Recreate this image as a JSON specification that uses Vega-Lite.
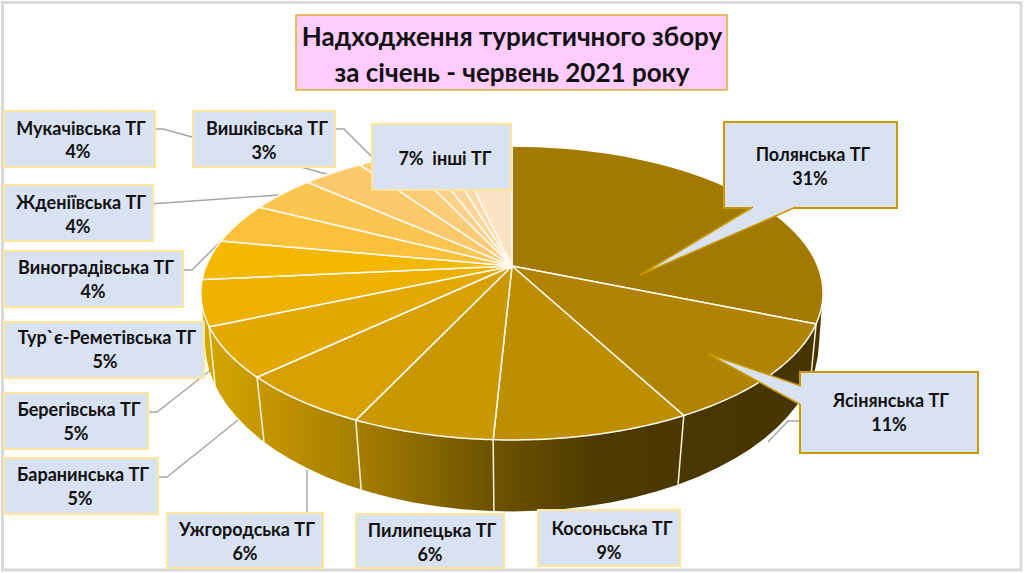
{
"$schema":"https://vega.github.io/schema/vega-lite/v6.json",
"width":1024,"height":573,"padding":0,
"autosize":{"type":"fit","contains":"padding"},
"background":"white",
"view":{"stroke":null},
"datasets":{
"slices":[
{"name":"Полянська ТГ","share":31.2},{"name":"Ясінянська ТГ","share":11},{"name":"Косоньська ТГ","share":8.6},{"name":"Пилипецька ТГ","share":6.2},{"name":"Ужгородська ТГ","share":6},{"name":"Баранинська ТГ","share":5.5},{"name":"Берегівська ТГ","share":5},{"name":"Тур`є-Реметівська ТГ","share":4.4},{"name":"Виноградівська ТГ","share":4.5},{"name":"Жденіївська ТГ","share":4.1},{"name":"Мукачівська ТГ","share":3.8},{"name":"Вишківська ТГ","share":2.7},{"name":"інші 1","share":1.3},{"name":"інші 2","share":1.2},{"name":"інші 3","share":0.9},{"name":"інші 4","share":3.6}],
"boxes":[
{"name":"Мукачівська ТГ","pct":"4%","x0":4,"x1":155,"y0":111,"y1":167,"nx":81,"ny":128,"px":78,"py":151,"kind":"light"},
{"name":"Вишківська ТГ","pct":"3%","x0":193,"x1":335,"y0":111,"y1":167,"nx":267,"ny":128,"px":264,"py":152,"kind":"light"},
{"name":"7%\u00a0\u00a0інші ТГ","pct":"","x0":372,"x1":511,"y0":124,"y1":190,"nx":445,"ny":158,"px":445,"py":158,"kind":"light"},
{"name":"Жденіївська ТГ","pct":"4%","x0":4,"x1":153,"y0":185,"y1":241,"nx":81,"ny":202,"px":78,"py":226,"kind":"light"},
{"name":"Виноградівська ТГ","pct":"4%","x0":4,"x1":183,"y0":251,"y1":307,"nx":96,"ny":267,"px":93,"py":291,"kind":"light"},
{"name":"Тур`є-Реметівська ТГ","pct":"5%","x0":4,"x1":204,"y0":322,"y1":378,"nx":107,"ny":337,"px":105,"py":361,"kind":"light"},
{"name":"Берегівська ТГ","pct":"5%","x0":4,"x1":148,"y0":393,"y1":449,"nx":79,"ny":409,"px":76,"py":433,"kind":"light"},
{"name":"Баранинська ТГ","pct":"5%","x0":4,"x1":158,"y0":458,"y1":514,"nx":83,"ny":474,"px":80,"py":498,"kind":"light"},
{"name":"Ужгородська ТГ","pct":"6%","x0":167,"x1":323,"y0":513,"y1":568,"nx":247,"ny":529,"px":245,"py":553,"kind":"light"},
{"name":"Пилипецька ТГ","pct":"6%","x0":356,"x1":504,"y0":514,"y1":568,"nx":432,"ny":530,"px":430,"py":554,"kind":"light"},
{"name":"Косоньська ТГ","pct":"9%","x0":538,"x1":680,"y0":510,"y1":566,"nx":612,"ny":528,"px":609,"py":552,"kind":"light"},
{"name":"Ясінянська ТГ","pct":"11%","x0":800,"x1":978,"y0":372,"y1":453,"nx":891,"ny":400,"px":889,"py":424,"kind":"dark"},
{"name":"Полянська ТГ","pct":"31%","x0":724,"x1":897,"y0":122,"y1":208,"nx":813,"ny":154,"px":810,"py":178,"kind":"dark"}],
"leaders":[
{"id":"Мукачівська","s":0,"x":155,"y":129},{"id":"Мукачівська","s":1,"x":163,"y":129},{"id":"Мукачівська","s":2,"x":330,"y":175},
{"id":"Вишківська","s":0,"x":336,"y":129},{"id":"Вишківська","s":1,"x":344,"y":129},{"id":"Вишківська","s":2,"x":374,"y":159},
{"id":"Жденіївська","s":0,"x":150,"y":204},{"id":"Жденіївська","s":1,"x":279,"y":195},
{"id":"Виноградівська","s":0,"x":184,"y":270},{"id":"Виноградівська","s":1,"x":192,"y":270},{"id":"Виноградівська","s":2,"x":238,"y":224},
{"id":"Берегівська","s":0,"x":148,"y":412},{"id":"Берегівська","s":1,"x":157,"y":412},{"id":"Берегівська","s":2,"x":212,"y":369},
{"id":"Баранинська","s":0,"x":159,"y":477},{"id":"Баранинська","s":1,"x":167,"y":477},{"id":"Баранинська","s":2,"x":238,"y":420},
{"id":"Ужгородська","s":0,"x":307,"y":470},{"id":"Ужгородська","s":1,"x":307,"y":513},
{"id":"Ясінянська","s":0,"x":800,"y":421},{"id":"Ясінянська","s":1,"x":788,"y":421},{"id":"Ясінянська","s":2,"x":768,"y":442}],
"pointers":[
{"id":"Полянська","s":0,"x":753,"y":207},{"id":"Полянська","s":1,"x":640,"y":275},{"id":"Полянська","s":2,"x":796,"y":207},
{"id":"Ясінянська","s":0,"x":801,"y":386},{"id":"Ясінянська","s":1,"x":708,"y":354},{"id":"Ясінянська","s":2,"x":801,"y":405}],
"title":[{"text":"Надходження туристичного збору","x":512,"y":37},{"text":"за січень - червень 2021 року","x":512,"y":73}]
},
"layer":[
{"data":{"values":[{"a":"frame","x0":2.5,"x1":1021,"y0":2.5,"y1":570}]},
 "mark":{"type":"rect","fill":"white","stroke":"#d9d9d9","strokeWidth":3},
 "encoding":{"x":{"field":"x0","type":"quantitative","scale":{"domain":[0,1024],"nice":false,"zero":false},"axis":null},"x2":{"field":"x1"},"y":{"field":"y0","type":"quantitative","scale":{"domain":[573,0],"nice":false,"zero":false},"axis":null},"y2":{"field":"y1"}}},
{"data":{"name":"leaders"},
 "mark":{"type":"line","stroke":"#a6a6a6","strokeWidth":1.5},
 "encoding":{"x":{"field":"x","type":"quantitative"},"y":{"field":"y","type":"quantitative"},"detail":{"field":"id"},"order":{"field":"s"}}},
{"data":{"values":[{"part":"side wall","from":100,"to":260}]},
 "transform":[
 {"calculate":"sequence(0,82)","as":"i"},{"flatten":["i"]},
 {"calculate":"PI/180*(datum.i<=40?datum.from+(datum.to-datum.from)*datum.i/40:datum.to-(datum.to-datum.from)*(datum.i-41)/40)","as":"th"},
 {"calculate":"sin(datum.th)","as":"u"},{"calculate":"-cos(datum.th)","as":"v"},
 {"calculate":"datum.i<=40?512+305.8*datum.u/(1-0.1837*datum.v):512+303*datum.u/(1-0.16*datum.v)","as":"px"},
 {"calculate":"datum.i<=40?266+142*datum.v/(1-0.1837*datum.v):315+165*datum.v/(1-0.16*datum.v)","as":"py"}],
 "mark":{"type":"line","strokeWidth":0,"fill":{"gradient":"linear","x1":0,"x2":1,"y1":0,"y2":0,"stops":[{"offset":0,"color":"#d6a800"},{"offset":0.1,"color":"#c49600"},{"offset":0.25,"color":"#a67e00"},{"offset":0.46,"color":"#6f5400"},{"offset":0.64,"color":"#4c3a00"},{"offset":1,"color":"#463400"}]}},
 "encoding":{"x":{"field":"px","type":"quantitative"},"y":{"field":"py","type":"quantitative"},"detail":{"field":"part"},"order":{"field":"i"}}},
{"data":{"name":"slices"},
 "transform":[
 {"window":[{"op":"sum","field":"share","as":"end"}],"frame":[null,0]},
 {"filter":"datum.end>=31 && datum.end<=69"},
 {"calculate":"2*PI*datum.end/100","as":"th"},
 {"calculate":"sin(datum.th)","as":"u"},{"calculate":"-cos(datum.th)","as":"v"},
 {"calculate":"512+305.8*datum.u/(1-0.1837*datum.v)","as":"tx"},
 {"calculate":"266+142*datum.v/(1-0.1837*datum.v)","as":"ty"},
 {"calculate":"512+303*datum.u/(1-0.16*datum.v)","as":"bx"},
 {"calculate":"315+165*datum.v/(1-0.16*datum.v)","as":"by"}],
 "mark":{"type":"rule","stroke":"#fff3d6","strokeWidth":1.5},
 "encoding":{"x":{"field":"tx","type":"quantitative"},"y":{"field":"ty","type":"quantitative"},"x2":{"field":"bx"},"y2":{"field":"by"}}},
{"data":{"name":"slices"},
 "transform":[
 {"window":[{"op":"sum","field":"share","as":"end"}],"frame":[null,0]},
 {"calculate":"datum.end-datum.share","as":"start"},
 {"calculate":"sequence(-1,42)","as":"i"},{"flatten":["i"]},
 {"calculate":"2*PI*(datum.start+datum.share*clamp(datum.i,0,40)/40)/100","as":"th"},
 {"calculate":"sin(datum.th)","as":"u"},{"calculate":"-cos(datum.th)","as":"v"},
 {"calculate":"datum.i<0||datum.i>40?512:512+305.8*datum.u/(1-0.1837*datum.v)","as":"px"},
 {"calculate":"datum.i<0||datum.i>40?266:266+142*datum.v/(1-0.1837*datum.v)","as":"py"}],
 "mark":{"type":"line","stroke":"#fffbf2","strokeWidth":1.5,"strokeJoin":"round"},
 "encoding":{"x":{"field":"px","type":"quantitative"},"y":{"field":"py","type":"quantitative"},"detail":{"field":"name"},"order":{"field":"i"},
 "fill":{"field":"name","type":"nominal","legend":null,"scale":{"domain":["Полянська ТГ","Ясінянська ТГ","Косоньська ТГ","Пилипецька ТГ","Ужгородська ТГ","Баранинська ТГ","Берегівська ТГ","Тур`є-Реметівська ТГ","Виноградівська ТГ","Жденіївська ТГ","Мукачівська ТГ","Вишківська ТГ","інші 1","інші 2","інші 3","інші 4"],"range":["#a27a00","#b08400","#bd8e00","#c99700","#d6a100","#e2aa00","#edb200","#f5b800","#fbc13a","#fbc552","#fbc96b","#fbcc77","#fbd088","#fbd597","#fbd9a6","#fbe3c6"]}}}},
{"data":{"name":"boxes"},
 "mark":{"type":"rect","fill":"#d9e2f3","strokeWidth":2},
 "encoding":{"x":{"field":"x0","type":"quantitative"},"x2":{"field":"x1"},"y":{"field":"y0","type":"quantitative"},"y2":{"field":"y1"},
 "stroke":{"field":"kind","type":"nominal","legend":null,"scale":{"domain":["light","dark"],"range":["#ffe599","#c99a00"]}}}},
{"data":{"name":"pointers"},
 "mark":{"type":"line","fill":"#d9e2f3","stroke":"#c99a00","strokeWidth":1.5},
 "encoding":{"x":{"field":"x","type":"quantitative"},"y":{"field":"y","type":"quantitative"},"detail":{"field":"id"},"order":{"field":"s"}}},
{"data":{"values":[{"a":"title","x0":296,"x1":727,"y0":15,"y1":90}]},
 "mark":{"type":"rect","fill":"#ffccff","stroke":"#e0b030","strokeWidth":1.5},
 "encoding":{"x":{"field":"x0","type":"quantitative"},"x2":{"field":"x1"},"y":{"field":"y0","type":"quantitative"},"y2":{"field":"y1"}}},
{"data":{"name":"title"},
 "mark":{"type":"text","font":"Lato","fontWeight":"bold","fontSize":26,"align":"center","baseline":"middle","dy":1,"color":"#111111"},
 "encoding":{"x":{"field":"x","type":"quantitative"},"y":{"field":"y","type":"quantitative"},"text":{"field":"text"}}},
{"data":{"name":"boxes"},
 "mark":{"type":"text","font":"Lato","fontWeight":"bold","fontSize":18,"align":"center","baseline":"middle","dy":2,"color":"#111111"},
 "encoding":{"x":{"field":"nx","type":"quantitative"},"y":{"field":"ny","type":"quantitative"},"text":{"field":"name"}}},
{"data":{"name":"boxes"},
 "mark":{"type":"text","font":"Lato","fontWeight":"bold","fontSize":18,"align":"center","baseline":"middle","dy":2,"color":"#111111"},
 "encoding":{"x":{"field":"px","type":"quantitative"},"y":{"field":"py","type":"quantitative"},"text":{"field":"pct"}}}
]
}
